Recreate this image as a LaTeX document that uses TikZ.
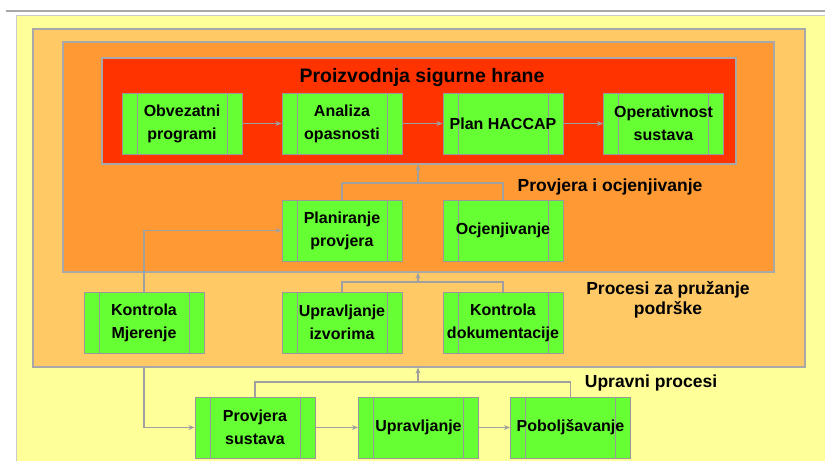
\documentclass[tikz,border=0pt]{standalone}
\usepackage{fontspec}
\setmainfont{Liberation Sans}
\usetikzlibrary{arrows.meta}
\definecolor{bgyellow}{HTML}{FFFF99}
\definecolor{supportfill}{HTML}{FFC966}
\definecolor{checkfill}{HTML}{FF9933}
\definecolor{prodfill}{HTML}{FF3300}
\definecolor{boxgreen}{HTML}{66FF33}
\definecolor{boxline}{HTML}{999999}
\definecolor{zoneline}{HTML}{A8A8A8}
\definecolor{connline}{HTML}{A0A0A0}
\begin{document}
\begin{tikzpicture}[x=1pt,y=-1pt,
  zone/.style={draw=zoneline, line width=1.2pt, inner sep=0pt},
  stepbox/.style={draw=boxline, fill=boxgreen, line width=1pt,
    minimum width=120pt, minimum height=61pt, inner sep=0pt, align=center,
    font=\bfseries\fontsize{16}{23}\selectfont,
    path picture={\draw[boxline, line width=1pt]
      ([xshift=15pt]path picture bounding box.north west) --
      ([xshift=15pt]path picture bounding box.south west)
      ([xshift=-15pt]path picture bounding box.north east) --
      ([xshift=-15pt]path picture bounding box.south east);}},
  zonetitle/.style={inner sep=0pt, align=center,
    font=\bfseries\fontsize{17.5}{20}\selectfont},
  conn/.style={draw=connline, line width=1.3pt},
  arr/.style={conn, -{Stealth[length=6pt,width=5pt]}}]

\useasboundingbox (0,0) rectangle (825,461);
\fill[white] (0,0) rectangle (825,461);

% page frame
\draw[zoneline, line width=1.2pt] (6,11) -- (825,11);
\fill[bgyellow] (16,15) rectangle (825,461);
\draw[zoneline!60, line width=1pt] (16,461) -- (16,15) -- (825,15);

% nested process zones
\node[zone, fill=supportfill, minimum width=772pt, minimum height=338pt] (sup) at (419,198) {};
\node[zone, fill=checkfill, minimum width=711pt, minimum height=230pt] (ver) at (418.5,157) {};
\node[zone, fill=prodfill, minimum width=634pt, minimum height=106pt] (prod) at (419,111) {};

% zone titles
\node[zonetitle, font=\bfseries\fontsize{19.5}{22}\selectfont] (tprod) at (422,77) {Proizvodnja sigurne hrane};
\node[zonetitle] (tver) at (610,187) {Provjera i ocjenjivanje};
\node[zonetitle] (tsup) at (668,300) {Procesi za pružanje\\podrške};
\node[zonetitle] (tman) at (651,383) {Upravni procesi};

% steps
\node[stepbox] (ob) at (182,123.5) {Obvezatni\\programi};
\node[stepbox] (an) at (342,123.5) {Analiza\\opasnosti};
\node[stepbox] (ha) at (503,123.5) {Plan HACCAP};
\node[stepbox] (op) at (663.5,123.5) {Operativnost\\sustava};

\node[stepbox] (pp) at (342,230.5) {Planiranje\\provjera};
\node[stepbox] (oc) at (503,230.5) {Ocjenjivanje};

\node[stepbox] (km) at (144,322.5) {Kontrola\\Mjerenje};
\node[stepbox] (ui) at (342,322.5) {Upravljanje\\izvorima};
\node[stepbox] (kd) at (503,322.5) {Kontrola\\dokumentacije};

\node[stepbox] (ps) at (255,427.5) {Provjera\\sustava};
\node[stepbox] (up) at (418.5,427.5) {Upravljanje};
\node[stepbox] (pb) at (570.5,427.5) {Poboljšavanje};

% junctions of the feedback lines
\coordinate (j1) at (418,183);
\coordinate (j2) at (418,282);
\coordinate (j3) at (418,382);

% production chain
\draw[arr] (ob) -- (an);
\draw[arr] (an) -- (ha);
\draw[arr] (ha) -- (op);

% checking feeds production
\draw[conn] (pp.north) |- (j1) -| (oc.north);
\draw[arr] (j1) -- (j1 |- prod.south);

% support feeds checking
\draw[conn] (ui.north) |- (j2) -| (kd.north);
\draw[arr] (j2) -- (j2 |- ver.south);
\draw[arr] (km.north) |- (pp.west);

% management feeds support
\draw[conn] (ps.north) |- (j3) -| (pb.north);
\draw[arr] (j3) -- (j3 |- sup.south);
\draw[arr] (km |- sup.south) |- (ps.west);
\draw[arr] (ps) -- (up);
\draw[arr] (up) -- (pb);
\end{tikzpicture}
\end{document}
